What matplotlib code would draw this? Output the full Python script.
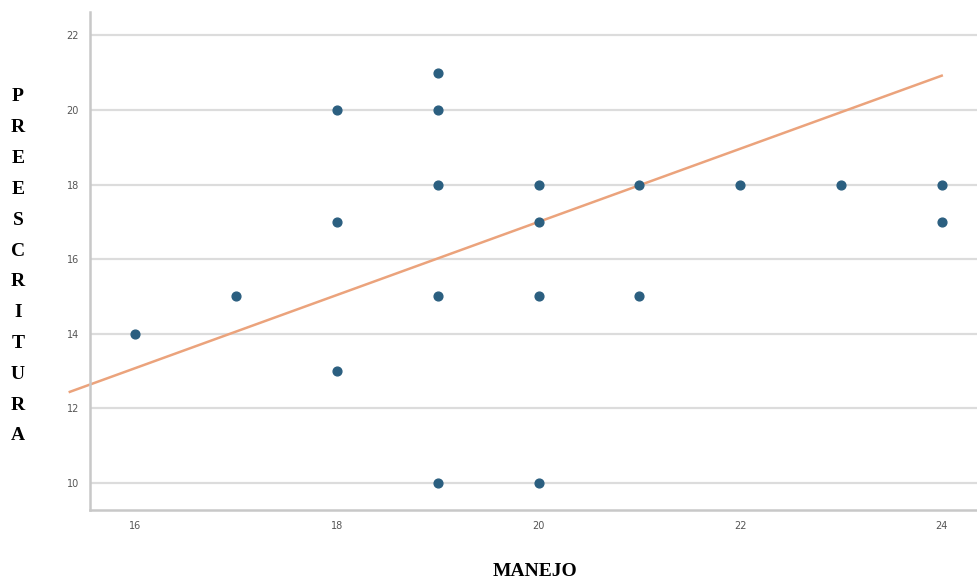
import matplotlib.pyplot as plt
import numpy as np

# datos (MANEJO vs PREESCRITURA)
manejo = [16, 17, 18, 18, 18, 19, 19, 19, 19, 19, 20, 20, 20, 20, 21, 21, 22, 23, 24, 24]
preescritura = [14, 15, 20, 17, 13, 21, 20, 18, 15, 10, 18, 17, 15, 10, 18, 15, 18, 18, 18, 17]

# recta de ajuste
pendiente = 0.98
intercepto = -2.6
linea_x = [15.35, 24]

x_ticks = [16, 18, 20, 22, 24]
y_ticks = [10, 12, 14, 16, 18, 20, 22]

fig = plt.figure(figsize=(9.78, 5.84), dpi=100)
ax = fig.add_axes([0.092, 0.127, 0.908, 0.852])

ax.set_xlim(15.55, 24.36)
ax.set_ylim(9.28, 22.62)

# grilla horizontal
for t in y_ticks:
    ax.axhline(t, color="#dcdcdc", linewidth=1.6, zorder=0)

lx = np.array(linea_x)
ax.plot(lx, intercepto + pendiente * lx, color="#eba37c", linewidth=1.8,
        zorder=2, clip_on=False)
ax.scatter(manejo, preescritura, s=40, color="#2b5f80", zorder=3)

ax.set_xticks(x_ticks)
ax.set_yticks(y_ticks)
ax.tick_params(length=0, labelsize=7, labelcolor="#555555", pad=8)
for s in ["top", "right"]:
    ax.spines[s].set_visible(False)
for s in ["left", "bottom"]:
    ax.spines[s].set_color("#c8c8c8")
    ax.spines[s].set_linewidth(1.8)

# etiqueta vertical letra por letra
letras = "PREESCRITURA"
for i, c in enumerate(letras):
    y_px = 97 + i * 30.8
    fig.text(18 / 978, 1 - y_px / 584, c, family="Liberation Serif",
             fontweight="bold", fontsize=14, ha="center", va="center")

fig.text(535 / 978, 1 - 571 / 584, "MANEJO", family="Liberation Serif",
         fontweight="bold", fontsize=14, ha="center", va="center")

fig.savefig("out.png", dpi=100)
